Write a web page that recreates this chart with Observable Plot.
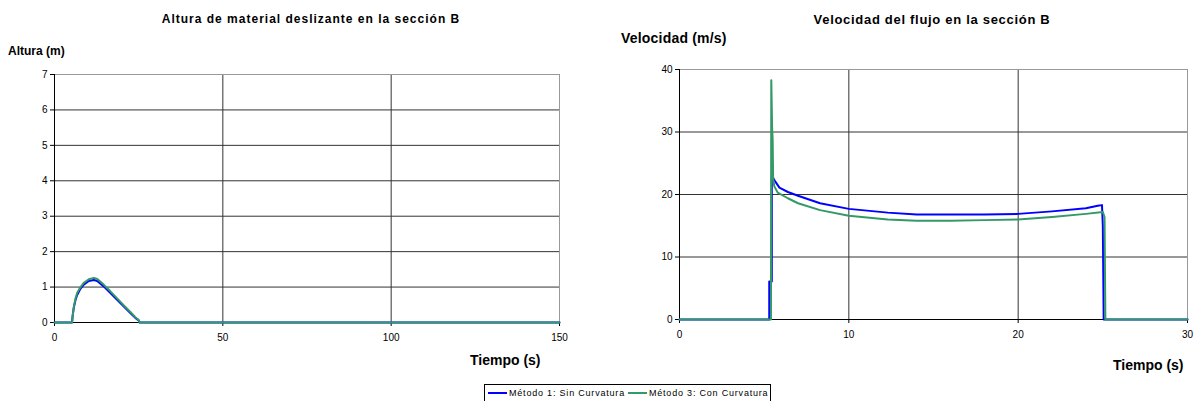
<!DOCTYPE html>
<html>
<head>
<meta charset="utf-8">
<script src="https://cdn.jsdelivr.net/npm/d3@7"></script>
<script src="https://cdn.jsdelivr.net/npm/@observablehq/plot@0.6"></script>
<style>
  html, body { margin: 0; padding: 0; background: #fff; }
  #root { position: relative; width: 1198px; height: 401px; overflow: hidden; font-family: "Liberation Sans", Arial, sans-serif; color: #000; }
  .abs { position: absolute; white-space: nowrap; line-height: 1.15; }
  .b { font-weight: bold; }
  #legend { position: absolute; left: 484px; top: 384px; height: 18px; border: 1px solid #000; box-sizing: border-box; display: flex; align-items: center; font-size: 9px; letter-spacing: 0.8px; padding: 0 2px 0 2px; background: #fff; }
  .sw { display: inline-block; width: 19px; height: 0; border-top: 2px solid; margin: 0 2px 0 1px; }
</style>
</head>
<body>
<div id="root">
  <div class="abs b" style="left:311px; top:12.5px; font-size:12px; letter-spacing:1px; transform:translateX(-50%);">Altura de material deslizante en la sección B</div>
  <div class="abs b" style="left:932px; top:12.5px; font-size:13px; letter-spacing:0.7px; transform:translateX(-50%);">Velocidad del flujo en la sección B</div>
  <div class="abs b" style="left:8px; top:45px; font-size:12px;">Altura (m)</div>
  <div class="abs b" style="left:621px; top:30px; font-size:14px; letter-spacing:0.2px;">Velocidad (m/s)</div>
  <div class="abs b" style="left:470px; top:352px; font-size:14px;">Tiempo (s)</div>
  <div class="abs b" style="left:1113px; top:357px; font-size:14px;">Tiempo (s)</div>
  <div id="left" class="abs" style="left:0; top:0;"></div>
  <div id="right" class="abs" style="left:600px; top:0;"></div>
  <div id="legend"></div>
</div>
<script>
// ---- Data ----
const seriesNames = ["Método 1: Sin Curvatura", "Método 3: Con Curvatura"];
const seriesColors = ["#0000ff", "#339966"];

// Altura (m) vs Tiempo (s)
const alturaT1 = [0, 5.2, 5.4, 5.7, 6.2, 6.7, 7.7, 8.7, 10.2, 11.7, 12.7, 14.6, 16.6, 18.6, 20.6, 22.6, 24.0, 25.0, 25.3, 150];
const alturaH1 = [0, 0, 0.2, 0.4, 0.62, 0.77, 0.95, 1.07, 1.17, 1.2, 1.17, 1.02, 0.83, 0.64, 0.45, 0.26, 0.13, 0.06, 0, 0];
const alturaT3 = [0, 5.25, 5.45, 5.74, 6.24, 6.73, 7.72, 8.7, 10.2, 11.7, 12.7, 14.6, 16.6, 18.6, 20.6, 22.6, 24.0, 25.0, 25.3, 150];
const alturaH3 = [0, 0, 0.22, 0.44, 0.68, 0.83, 1.0, 1.12, 1.22, 1.26, 1.23, 1.07, 0.88, 0.68, 0.48, 0.29, 0.15, 0.07, 0, 0];

// Velocidad (m/s) vs Tiempo (s)
const velT1 = [0, 5.3, 5.3, 5.45, 5.45, 5.6, 5.9, 6.4, 7.0, 8.3, 10.0, 12.3, 14.0, 16.0, 18.0, 20.0, 22.0, 24.0, 24.7, 24.95, 25.0, 25.05, 30];
const velV1 = [0, 0, 6.1, 6.1, 23.0, 22.3, 21.1, 20.4, 19.8, 18.6, 17.7, 17.1, 16.8, 16.8, 16.8, 16.9, 17.3, 17.8, 18.2, 18.3, 15.0, 0, 0];
const velT3 = [0, 5.4, 5.42, 5.47, 5.5, 5.53, 5.6, 5.8, 6.4, 7.0, 8.3, 10.0, 12.3, 14.0, 16.0, 18.0, 20.0, 22.0, 24.0, 25.0, 25.1, 25.15, 30];
const velV3 = [0, 0, 38.3, 30.5, 29.0, 22.5, 21.3, 20.3, 19.4, 18.6, 17.5, 16.6, 16.0, 15.8, 15.8, 15.9, 16.0, 16.4, 16.9, 17.2, 16.4, 0, 0];

const alturaTicksX = [0, 50, 100, 150];
const alturaTicksY = [0, 1, 2, 3, 4, 5, 6, 7];
const velTicksX = [0, 10, 20, 30];
const velTicksY = [0, 10, 20, 30, 40];

// ---- Build tables ----
const toRows = (ts, vs, s) => ts.map((t, i) => ({t, v: vs[i], s}));
const alturaData = [...toRows(alturaT1, alturaH1, seriesNames[0]), ...toRows(alturaT3, alturaH3, seriesNames[1])];
const velData = [...toRows(velT1, velV1, seriesNames[0]), ...toRows(velT3, velV3, seriesNames[1])];

function chart({data, width, marginLeft, marginRight, marginTop, marginBottom, xDomain, yDomain, xTicks, yTicks}) {
  return Plot.plot({
    width, height: 401, marginLeft, marginRight, marginTop, marginBottom,
    style: {fontFamily: '"Liberation Sans", Arial, sans-serif', fontSize: "10px", color: "#000", background: "transparent"},
    x: {domain: xDomain, ticks: xTicks, label: null},
    y: {domain: yDomain, ticks: yTicks, label: null},
    color: {domain: seriesNames, range: seriesColors},
    marks: [
      Plot.ruleY(yTicks.filter(d => d !== yDomain[0]), {stroke: "#333", strokeWidth: 1}),
      Plot.ruleX(xTicks.filter(d => d !== xDomain[0] && d !== xDomain[1]), {stroke: "#333", strokeWidth: 1}),
      Plot.ruleX([xDomain[1]], {stroke: "#999", strokeWidth: 1}),
      Plot.ruleY([yDomain[1]], {stroke: "#999", strokeWidth: 1}),
      Plot.axisX({ticks: xTicks, tickSize: 4, tickPadding: 7, tickFormat: d => String(d)}),
      Plot.axisY({ticks: yTicks, tickSize: 4, tickPadding: 3, tickFormat: d => String(d)}),
      Plot.ruleX([xDomain[0]], {stroke: "#000", strokeWidth: 1}),
      Plot.ruleY([yDomain[0]], {stroke: "#000", strokeWidth: 1}),
      Plot.line(data, {x: "t", y: "v", z: "s", stroke: "s", strokeWidth: 2})
    ]
  });
}

document.getElementById("left").appendChild(chart({
  data: alturaData, width: 600, marginLeft: 54, marginRight: 41, marginTop: 74, marginBottom: 79,
  xDomain: [0, 150], yDomain: [0, 7], xTicks: alturaTicksX, yTicks: alturaTicksY
}));
document.getElementById("right").appendChild(chart({
  data: velData, width: 598, marginLeft: 79, marginRight: 11, marginTop: 69, marginBottom: 82,
  xDomain: [0, 30], yDomain: [0, 40], xTicks: velTicksX, yTicks: velTicksY
}));

// Legend
const leg = document.getElementById("legend");
seriesNames.forEach((n, i) => {
  const sw = document.createElement("span");
  sw.className = "sw";
  sw.style.borderTopColor = seriesColors[i];
  const tx = document.createElement("span");
  tx.textContent = n;
  tx.style.marginRight = i === 0 ? "2px" : "0";
  leg.appendChild(sw);
  leg.appendChild(tx);
});
</script>
</body>
</html>
